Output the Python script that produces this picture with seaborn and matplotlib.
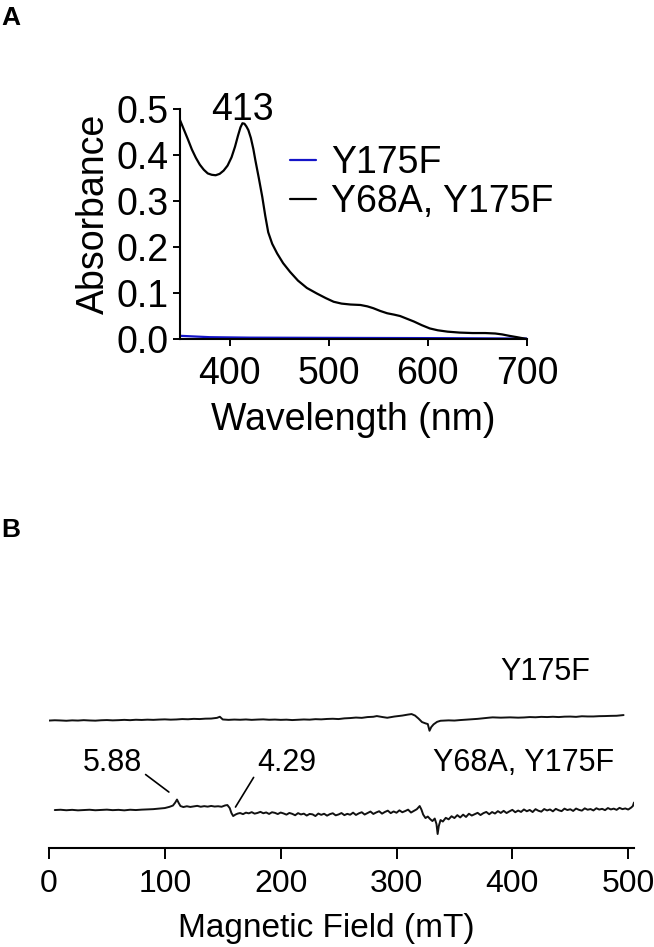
import numpy as np
import pandas as pd
import seaborn as sns
import matplotlib.pyplot as plt

sns.set_style("ticks")
plt.rcParams['font.family'] = ['Liberation Sans', 'DejaVu Sans']
plt.rcParams.update({'text.color': 'black', 'axes.labelcolor': 'black',
                     'xtick.color': 'black', 'ytick.color': 'black',
                     'axes.edgecolor': 'black'})

# ---- panel A: UV-vis spectra
wl_dm = [350, 354, 358, 362, 366, 370, 374, 378, 382, 386, 390, 394, 398, 402, 405.5,
         408.5, 411, 413, 415, 417, 419, 421.5, 424, 426, 429.5, 433, 436, 439, 443,
         448, 454, 461, 469, 478, 488, 497, 505, 513, 522, 532, 539, 545, 552, 559,
         566, 572, 579, 586, 594, 602, 610, 620, 632, 645, 658, 668, 675, 682, 690, 700]
abs_dm = [0.476, 0.455, 0.434, 0.412, 0.394, 0.379, 0.368, 0.360, 0.357, 0.356, 0.359,
          0.366, 0.377, 0.395, 0.418, 0.442, 0.460, 0.469, 0.468, 0.462, 0.454, 0.437,
          0.413, 0.389, 0.350, 0.309, 0.268, 0.232, 0.207, 0.186, 0.165, 0.146, 0.127,
          0.111, 0.099, 0.089, 0.081, 0.077, 0.075, 0.074, 0.071, 0.067, 0.061, 0.056,
          0.053, 0.050, 0.044, 0.038, 0.030, 0.023, 0.019, 0.016, 0.014, 0.013, 0.013,
          0.012, 0.010, 0.007, 0.004, 0.0]
wl_sm = [350, 360, 380, 420, 500, 600, 700]
abs_sm = [0.007, 0.006, 0.004, 0.003, 0.0025, 0.002, 0.001]
samples = ['Y175F', 'Y68A, Y175F']

# ---- panel B: EPR spectra (arbitrary units)
field_up = [0, 5, 10, 15, 20, 25, 30, 35, 40, 45, 50, 55, 60, 65, 70, 75, 80, 85, 90,
            95, 100, 105, 110, 115, 120, 125, 130, 135, 140, 145, 147.5, 150, 155, 160,
            165, 170, 175, 180, 185, 190, 195, 200, 205, 210, 215, 220, 225, 230, 235,
            240, 245, 250, 255, 260, 265, 270, 275, 280, 283, 288, 292, 298, 305, 310,
            313, 316, 319, 322, 325, 327, 328.5, 330, 332, 335, 338, 345, 350, 355, 360,
            365, 370, 375, 380, 383, 390, 398, 405, 410, 415, 420, 425, 430, 435, 440,
            445, 450, 455, 460, 465, 470, 475, 480, 485, 490, 496]
sig_up = [-0.5, -0.2, -0.4, -0.7, -0.3, -0.5, -0.1, -0.4, -0.6, -0.2, 0.0, -0.3, -0.1,
          0.2, -0.1, 0.3, 0.1, 0.4, 0.2, 0.5, 0.7, 0.4, 0.6, 1.0, 0.8, 1.2, 1.0, 1.4,
          1.5, 2.2, 3.3, 0.6, 0.2, 0.5, 0.3, 0.6, 0.2, 0.5, 0.7, 0.3, 0.5, 0.2, 0.4,
          0.0, 0.3, 0.6, 0.4, 0.9, 0.7, 1.1, 1.3, 1.0, 1.7, 2.0, 2.5, 2.2, 3.0, 3.3,
          4.0, 3.0, 2.3, 3.5, 4.5, 5.5, 6.0, 4.5, 1.5, -2.0, -3.3, -4.0, -10.7, -7.0,
          -4.3, -1.8, -0.7, -0.3, -0.5, 0.0, 0.4, 0.8, 1.2, 1.8, 2.4, 2.7, 2.4, 2.7,
          2.4, 2.6, 3.0, 2.8, 3.2, 3.0, 3.3, 3.0, 3.4, 3.5, 3.2, 3.8, 3.6, 3.6, 3.9,
          4.0, 4.2, 4.3, 5.0]

field_lo = [5, 10, 15, 20, 25, 30, 35, 40, 45, 50, 55, 60, 65, 70, 75, 80, 85, 90, 95,
            100, 104, 107, 109, 110.5, 112, 113.5, 116, 119, 122, 125, 128, 131, 134,
            137, 140, 143, 146, 149, 152, 154, 156, 157.5, 159, 161, 163,
            165, 167.5, 170, 172.5, 175, 177.5, 180, 182.5, 185, 187.5, 190, 192.5, 195,
            197.5, 200, 202.5, 205, 207.5, 210, 212.5, 215, 217.5, 220, 222.5, 225,
            227.5, 230, 232.5, 235, 237.5, 240, 242.5, 245, 247.5, 250, 252.5, 255,
            257.5, 260, 262.5, 265, 267.5, 270, 272.5, 275, 277.5, 280, 282.5, 285,
            287.5, 290, 292.5, 295, 297.5, 300, 302.5, 305, 307.5, 310, 312.5, 315,
            317.5, 320, 321.5, 323, 325, 327, 329, 331, 333, 334.5, 335.5, 336.5, 338,
            340, 342.5, 345, 347.5, 350, 352.5, 355, 357.5, 360, 362.5, 365, 367.5, 370,
            372.5, 375, 377.5, 380, 382.5, 385, 387.5, 390, 392.5, 395, 397.5, 400,
            402.5, 405, 407.5, 410, 412.5, 415, 417.5, 420, 422.5, 425, 427.5, 430,
            432.5, 435, 437.5, 440, 442.5, 445, 447.5, 450, 452.5, 455, 457.5, 460,
            462.5, 465, 467.5, 470, 472.5, 475, 477.5, 480, 482.5, 485, 487.5, 490,
            492.5, 495, 497.5, 500, 502.5, 504, 505]
sig_lo = [0, 0.3, -0.2, 0.2, -0.3, 0.0, 0.3, -0.2, 0.1, 0.4, -0.1, 0.2, -0.3, 0.3, 0.0,
          0.4, 0.6, 0.9, 1.4, 2.0, 3.2, 4.5, 7.5, 10.5, 7.0, 4.0, 3.0, 3.8, 3.1, 3.6,
          4.2, 3.3, 3.9, 3.4, 4.1, 3.5, 3.8, 3.3, 4.6, 5.0, 2.0, -3.0, -6.0, -4.5, -3.5,
          -3.0, -4.1, -2.6, -3.3, -2.1, -3.6, -2.9, -1.8, -3.2, -2.4, -3.9, -2.2, -2.8,
          -4.0, -2.5, -3.4, -4.6, -2.9, -3.8, -5.2, -3.1, -4.4, -3.6, -5.5, -3.9,
          -4.3, -6.0, -3.5, -4.8, -3.7, -5.6, -4.1, -3.2, -5.3, -4.4, -3.0, -5.1,
          -3.8, -4.7, -2.6, -4.9, -3.3, -2.2, -4.5, -3.0, -1.5, -3.9, -2.4, -1.2,
          -3.6, -1.9, -0.6, -3.1, -1.4, -2.7, -0.3, -2.2, -1.0, 0.4, -2.5, -0.8,
          0.8, 4.0, 0.5, -4.5, -8.0, -6.5, -9.0, -11.0, -8.5, -14.0, -24.0, -16.0, -10.0,
          -11.5, -7.8, -9.3, -6.2, -8.0, -5.1, -7.4, -4.6, -6.9, -3.7, -5.5, -4.2, -2.8,
          -5.0, -3.1, -1.9, -4.2, -2.0, -3.5, -1.1, -2.9, -0.8, -3.0, -1.3, 0.2,
          -2.2, -0.5, -1.9, 0.6, -1.2, 0.1, -2.0, 0.9, -0.7, -1.6, 1.0, -0.4,
          0.6, -1.3, 1.2, -0.2, -1.1, 1.4, 0.0, 0.8, -0.9, 1.5, 0.2, -0.6,
          1.7, 0.3, 1.0, -0.4, 1.8, 0.5, 1.2, -0.1, 2.0, 0.6, 1.4, 0.2,
          2.2, 0.9, 1.6, 0.5, 2.4, 4.0, 7.5]
g_values = ['5.88', '4.29']
g_fields = [103.5, 161]

up_offset = 90

fig = plt.figure(figsize=(6.54, 9.47), dpi=100)
ax1 = fig.add_axes([0.2752, 0.642, 0.5306, 0.2429])
ax2 = fig.add_axes([0.0749, 0.1045, 0.8945, 0.2196])

dfA = pd.concat([
    pd.DataFrame({'wl': wl_sm, 'abs': abs_sm, 'sample': samples[0]}),
    pd.DataFrame({'wl': wl_dm, 'abs': abs_dm, 'sample': samples[1]}),
])
sns.lineplot(data=dfA, x='wl', y='abs', hue='sample', palette=['#1414c8', 'black'],
             sort=False, estimator=None, linewidth=1.6, ax=ax1)
ax1.set_xlim(350, 700)
ax1.set_ylim(0, 0.5)
ax1.set_xticks([400, 500, 600, 700])
ax1.set_yticks([0, 0.1, 0.2, 0.3, 0.4, 0.5])
ax1.set_yticklabels(['0.0', '0.1', '0.2', '0.3', '0.4', '0.5'])
ax1.tick_params(labelsize=27, length=5, width=1.4)
ax1.tick_params(axis='x', pad=7)
ax1.tick_params(axis='y', pad=3)
sns.despine(ax=ax1)
for s in ['left', 'bottom']:
    ax1.spines[s].set_linewidth(1.5)
ax1.set_xlabel('Wavelength (nm)', fontsize=27)
ax1.set_ylabel('Absorbance', fontsize=27)
ax1.xaxis.set_label_coords(0.5, -0.275)
ax1.yaxis.set_label_coords(-0.195, 0.543)
ax1.text(413, 0.497, '413', ha='center', va='center', fontsize=27)
ax1.legend(frameon=False, fontsize=27, loc='upper left',
           bbox_to_anchor=(290 / 654, 1 - 145 / 947), bbox_transform=fig.transFigure,
           borderaxespad=0, borderpad=0, handlelength=0.7, handletextpad=0.4,
           labelspacing=0.08)

sns.lineplot(x=field_up, y=np.array(sig_up) + up_offset, color='#111111',
             sort=False, estimator=None, linewidth=1.4, ax=ax2)
sns.lineplot(x=field_lo, y=sig_lo, color='#111111',
             sort=False, estimator=None, linewidth=1.4, ax=ax2)
ax2.set_xlim(0, 505)
ax2.set_ylim(-38, 170)
ax2.set_xticks([0, 100, 200, 300, 400, 500])
ax2.set_yticks([])
ax2.tick_params(axis='x', labelsize=23, length=8, width=1.4, pad=7)
sns.despine(ax=ax2, left=True)
ax2.spines['bottom'].set_linewidth(1.5)
ax2.set_xlabel('Magnetic Field (mT)', fontsize=24)
ax2.xaxis.set_label_coords(0.4735, -0.3125)
ax2.text(428, 138, 'Y175F', ha='center', va='center', fontsize=22)
ax2.text(410, 47, 'Y68A, Y175F', ha='center', va='center', fontsize=22)
ax2.annotate(g_values[0], xy=(g_fields[0], 18), xytext=(55, 47), ha='center', va='center',
             fontsize=22, arrowprops=dict(arrowstyle='-', color='black', lw=1.2,
                                          shrinkA=0, shrinkB=0, relpos=(1, 0.2)))
ax2.annotate(g_values[1], xy=(g_fields[1], 3), xytext=(205, 47), ha='center', va='center',
             fontsize=22, arrowprops=dict(arrowstyle='-', color='black', lw=1.2,
                                          shrinkA=0, shrinkB=0, relpos=(0, 0.2)))

fig.text(0.002, 1 - 6 / 947, 'A', fontsize=19, fontweight='bold', ha='left', va='top')
fig.text(0.002, 1 - 518 / 947, 'B', fontsize=19, fontweight='bold', ha='left', va='top')

fig.savefig('out.png', dpi=100)
